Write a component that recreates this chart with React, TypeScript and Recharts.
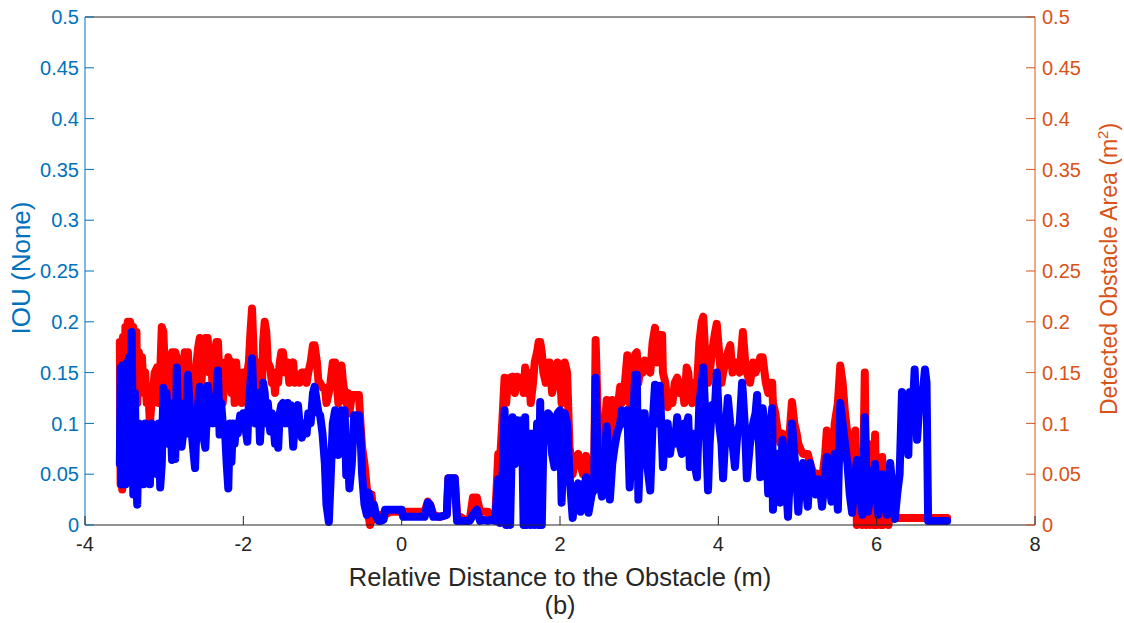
import React from "react";
import { LineChart, Line, XAxis, YAxis, ReferenceLine } from "recharts";

// Relative distance to the obstacle (m)
const DIST = [
  -3.56, -3.55, -3.54, -3.53, -3.52, -3.50, -3.49, -3.47, -3.46, -3.44,
  -3.43, -3.41, -3.39, -3.37, -3.35, -3.34, -3.32, -3.30, -3.28, -3.26,
  -3.24, -3.22, -3.20, -3.18, -3.16, -3.14, -3.12, -3.09, -3.07, -3.05,
  -3.03, -3.01, -2.99, -2.97, -2.95, -2.92, -2.90, -2.88, -2.86, -2.84,
  -2.82, -2.80, -2.78, -2.76, -2.74, -2.72, -2.70, -2.68, -2.66, -2.64,
  -2.61, -2.59, -2.57, -2.55, -2.53, -2.51, -2.48, -2.46, -2.45, -2.43,
  -2.41, -2.38, -2.36, -2.34, -2.32, -2.30, -2.28, -2.26, -2.23, -2.21,
  -2.19, -2.17, -2.15, -2.13, -2.11, -2.09, -2.07, -2.04, -2.02, -2.00,
  -1.98, -1.95, -1.93, -1.91, -1.89, -1.87, -1.85, -1.83, -1.81, -1.79,
  // B
  -1.77, -1.75, -1.73, -1.71, -1.69, -1.66, -1.64, -1.62, -1.60, -1.58,
  -1.56, -1.54, -1.52, -1.50, -1.47, -1.44, -1.42, -1.40, -1.37, -1.35,
  -1.31, -1.29, -1.26, -1.22, -1.20, -1.18, -1.15, -1.12, -1.10, -1.07,
  -1.05, -1.03, -1.00, -0.97, -0.95, -0.92, -0.90, -0.87, -0.84, -0.82,
  -0.80, -0.78, -0.76, -0.74, -0.72, -0.70, -0.68, -0.66, -0.63, -0.60,
  -0.57, -0.54, -0.52, -0.50, -0.47, -0.44, -0.42, -0.40, -0.38, -0.35,
  -0.32, -0.29, -0.26, -0.23,
  // C
  -0.21, -0.15, -0.08, 0.0, 0.02, 0.10, 0.20, 0.29, 0.33, 0.36,
  0.40, 0.48, 0.57, 0.59, 0.67, 0.70, 0.80, 0.86, 0.90, 0.95,
  0.99, 1.03, 1.09, 1.12, 1.18,
  // D
  1.22, 1.24, 1.27, 1.30, 1.32, 1.34, 1.37, 1.40, 1.43, 1.46,
  1.49, 1.52, 1.54, 1.56, 1.58, 1.61, 1.63, 1.66, 1.68, 1.71,
  1.73, 1.75, 1.77, 1.79, 1.82, 1.85, 1.87, 1.90, 1.93, 1.97,
  2.00, 2.02, 2.06, 2.09, 2.12, 2.16, 2.19, 2.23, 2.26, 2.29,
  2.33, 2.36, 2.40, 2.43, 2.45, 2.48, 2.53, 2.57, 2.59, 2.63,
  2.66, 2.69, 2.72, 2.76, 2.78, 2.81, 2.85, 2.88, 2.92, 2.95,
  2.97,
  // E
  2.99, 3.02, 3.05, 3.07, 3.10, 3.14, 3.17, 3.20, 3.23, 3.26,
  3.29, 3.30, 3.33, 3.36, 3.39, 3.42, 3.45, 3.48, 3.51, 3.54,
  3.57, 3.60, 3.62, 3.64, 3.67, 3.70, 3.73, 3.76, 3.79, 3.81,
  3.84, 3.87, 3.89, 3.92, 3.96, 3.98, 4.01, 4.04, 4.06, 4.09,
  4.12, 4.15, 4.18, 4.21, 4.24, 4.27, 4.30, 4.31, 4.34, 4.36,
  4.40, 4.44, 4.47, 4.49, 4.53, 4.56, 4.60, 4.63, 4.65, 4.68,
  4.69, 4.72, 4.75, 4.78, 4.81, 4.84, 4.88, 4.91, 4.93, 4.96,
  4.99, 5.01, 5.04, 5.07, 5.10, 5.13, 5.16, 5.20, 5.23, 5.26,
  5.28, 5.31, 5.35, 5.37, 5.40, 5.43, 5.47, 5.51, 5.54, 5.57,
  5.60, 5.63, 5.66, 5.69, 5.73, 5.75, 5.79, 5.82, 5.85, 5.87,
  5.89, 5.92, 5.94, 5.96, 5.98, 6.00, 6.02, 6.05, 6.07, 6.08,
  6.13, 6.15, 6.17, 6.21, 6.23, 6.26, 6.29, 6.32, 6.36, 6.40,
  6.42, 6.46, 6.48, 6.51, 6.55, 6.57, 6.61, 6.63, 6.65, 6.75,
  6.89,
];

// Detected obstacle area (m^2) - red, right axis
const AREA = [
  0.18, 0.04, 0.17, 0.035, 0.185, 0.09, 0.195, 0.12, 0.2, 0.17,
  0.2, 0.19, 0.195, 0.16, 0.19, 0.12, 0.17, 0.14, 0.165, 0.13,
  0.15, 0.12, 0.13, 0.1, 0.12, 0.13, 0.15, 0.155, 0.12, 0.15,
  0.195, 0.19, 0.15, 0.13, 0.11, 0.16, 0.17, 0.15, 0.17, 0.165,
  0.12, 0.15, 0.11, 0.15, 0.17, 0.15, 0.17, 0.13, 0.15, 0.12,
  0.14, 0.16, 0.175, 0.184, 0.14, 0.16, 0.184, 0.17, 0.184, 0.15,
  0.16, 0.13, 0.17, 0.18, 0.18, 0.14, 0.16, 0.12, 0.16, 0.14,
  0.165, 0.16, 0.13, 0.16, 0.12, 0.16, 0.13, 0.15, 0.12, 0.15,
  0.13, 0.15, 0.16, 0.19, 0.213, 0.17, 0.15, 0.13, 0.15, 0.16,
  // B
  0.12, 0.18, 0.2, 0.19, 0.16, 0.155, 0.14, 0.15, 0.13, 0.15,
  0.14, 0.16, 0.17, 0.17, 0.15, 0.16, 0.14, 0.15, 0.16, 0.14,
  0.148, 0.14, 0.15, 0.15, 0.14, 0.15, 0.16, 0.177, 0.177, 0.16,
  0.14, 0.14, 0.135, 0.135, 0.12, 0.13, 0.14, 0.16, 0.16, 0.14,
  0.12, 0.15, 0.157, 0.14, 0.13, 0.12, 0.13, 0.11, 0.128, 0.128,
  0.128, 0.128, 0.1, 0.077, 0.06, 0.036, 0.01, 0.0, 0.03, 0.005,
  0.01, 0.005, 0.01, 0.006,
  // C
  0.01, 0.013, 0.013, 0.013, 0.013, 0.013, 0.013, 0.013, 0.023, 0.02,
  0.01, 0.008, 0.01, 0.046, 0.046, 0.01, 0.005, 0.005, 0.027, 0.027,
  0.013, 0.013, 0.013, 0.005, 0.005,
  // D
  0.07, 0.06, 0.1, 0.145, 0.12, 0.14, 0.145, 0.146, 0.13, 0.146,
  0.14, 0.145, 0.13, 0.155, 0.13, 0.15, 0.12, 0.14, 0.16, 0.17,
  0.18, 0.18, 0.17, 0.15, 0.14, 0.16, 0.16, 0.13, 0.14, 0.16,
  0.15, 0.12, 0.16, 0.15, 0.077, 0.05, 0.065, 0.07, 0.06, 0.05,
  0.068, 0.05, 0.04, 0.04, 0.182, 0.1, 0.04, 0.1, 0.123, 0.08,
  0.123, 0.1, 0.11, 0.136, 0.12, 0.13, 0.167, 0.12, 0.15, 0.168,
  0.17,
  // E
  0.14, 0.16, 0.15, 0.162, 0.16, 0.15, 0.18, 0.194, 0.16, 0.187,
  0.187, 0.15, 0.14, 0.116, 0.13, 0.12, 0.14, 0.145, 0.13, 0.14,
  0.12, 0.155, 0.15, 0.13, 0.12, 0.14, 0.135, 0.18, 0.2, 0.205,
  0.16, 0.14, 0.15, 0.17, 0.19, 0.198, 0.17, 0.14, 0.15, 0.16,
  0.17, 0.177, 0.15, 0.16, 0.16, 0.15, 0.18, 0.19, 0.16, 0.15,
  0.14, 0.16, 0.15, 0.155, 0.165, 0.165, 0.14, 0.13, 0.14, 0.14,
  0.12, 0.11, 0.092, 0.081, 0.09, 0.085, 0.07, 0.1, 0.121, 0.1,
  0.09, 0.08, 0.074, 0.07, 0.07, 0.07, 0.06, 0.051, 0.051, 0.05,
  0.05, 0.045, 0.07, 0.093, 0.08, 0.05, 0.1, 0.12, 0.157, 0.14,
  0.11, 0.09, 0.07, 0.06, 0.093, 0.0, 0.04, 0.0, 0.15, 0.0,
  0.08, 0.0, 0.06, 0.0, 0.089, 0.0, 0.06, 0.0, 0.067, 0.0,
  0.03, 0.0, 0.02, 0.007, 0.007, 0.007, 0.007, 0.007, 0.007, 0.007,
  0.007, 0.007, 0.007, 0.007, 0.007, 0.007, 0.007, 0.007, 0.007, 0.007,
  0.007,
];

// IOU (None) - blue, left axis
const IOU = [
  0.06, 0.155, 0.04, 0.157, 0.05, 0.14, 0.04, 0.16, 0.05, 0.165,
  0.06, 0.19, 0.03, 0.13, 0.04, 0.02, 0.1, 0.05, 0.09, 0.04,
  0.1, 0.06, 0.08, 0.04, 0.1, 0.06, 0.09, 0.05, 0.1, 0.037,
  0.06, 0.135, 0.11, 0.13, 0.08, 0.1, 0.064, 0.12, 0.065, 0.155,
  0.1, 0.12, 0.077, 0.09, 0.11, 0.09, 0.148, 0.12, 0.1, 0.08,
  0.056, 0.1, 0.12, 0.136, 0.1, 0.09, 0.076, 0.11, 0.137, 0.1,
  0.12, 0.1, 0.12, 0.13, 0.152, 0.089, 0.12, 0.1, 0.09, 0.06,
  0.036, 0.1, 0.062, 0.1, 0.08, 0.1, 0.09, 0.108, 0.1, 0.11,
  0.1, 0.082, 0.12, 0.14, 0.164, 0.12, 0.1, 0.11, 0.13, 0.082,
  // B
  0.11, 0.14, 0.13, 0.1, 0.12, 0.092, 0.11, 0.1, 0.08, 0.1,
  0.076, 0.11, 0.118, 0.12, 0.1, 0.12, 0.1, 0.118, 0.077, 0.1,
  0.118, 0.1, 0.086, 0.1, 0.09, 0.11, 0.1, 0.13, 0.136, 0.12,
  0.11, 0.108, 0.09, 0.06, 0.02, 0.003, 0.04, 0.1, 0.113, 0.09,
  0.069, 0.1, 0.113, 0.1, 0.113, 0.049, 0.07, 0.036, 0.06, 0.108,
  0.108, 0.108, 0.09, 0.05, 0.02, 0.01, 0.032, 0.025, 0.012, 0.02,
  0.008, 0.004, 0.004, 0.005,
  // C
  0.015, 0.015, 0.015, 0.015, 0.008, 0.008, 0.008, 0.008, 0.022, 0.02,
  0.008, 0.008, 0.01, 0.046, 0.046, 0.004, 0.004, 0.004, 0.01, 0.015,
  0.004, 0.005, 0.004, 0.005, 0.004,
  // D
  0.045, 0.002, 0.04, 0.113, 0.0, 0.057, 0.0, 0.106, 0.06, 0.103,
  0.07, 0.103, 0.0, 0.106, 0.0, 0.09, 0.0, 0.09, 0.0, 0.1,
  0.0, 0.121, 0.0, 0.08, 0.09, 0.11, 0.108, 0.07, 0.057, 0.11,
  0.113, 0.022, 0.11, 0.1, 0.05, 0.007, 0.03, 0.041, 0.013, 0.03,
  0.047, 0.012, 0.03, 0.035, 0.145, 0.05, 0.028, 0.07, 0.097, 0.025,
  0.06, 0.077, 0.09, 0.1, 0.113, 0.1, 0.113, 0.037, 0.1, 0.148,
  0.148,
  // E
  0.025, 0.09, 0.11, 0.11, 0.06, 0.034, 0.1, 0.138, 0.1, 0.137,
  0.08, 0.057, 0.09, 0.1, 0.07, 0.09, 0.08, 0.106, 0.08, 0.07,
  0.1, 0.1, 0.106, 0.057, 0.09, 0.06, 0.047, 0.12, 0.14, 0.155,
  0.1, 0.034, 0.08, 0.118, 0.12, 0.15, 0.1, 0.08, 0.046, 0.09,
  0.125, 0.1, 0.08, 0.057, 0.09, 0.1, 0.14, 0.13, 0.09, 0.046,
  0.08, 0.1, 0.11, 0.128, 0.047, 0.115, 0.09, 0.031, 0.08, 0.115,
  0.015, 0.06, 0.07, 0.022, 0.084, 0.06, 0.008, 0.06, 0.1, 0.07,
  0.04, 0.013, 0.05, 0.061, 0.04, 0.018, 0.061, 0.041, 0.03, 0.045,
  0.04, 0.018, 0.05, 0.067, 0.04, 0.023, 0.07, 0.015, 0.12, 0.1,
  0.08, 0.061, 0.03, 0.012, 0.05, 0.064, 0.03, 0.01, 0.106, 0.05,
  0.013, 0.03, 0.054, 0.04, 0.06, 0.03, 0.01, 0.03, 0.05, 0.04,
  0.01, 0.03, 0.061, 0.03, 0.006, 0.031, 0.05, 0.131, 0.125, 0.069,
  0.131, 0.12, 0.153, 0.084, 0.131, 0.12, 0.153, 0.14, 0.004, 0.004,
  0.004,
];

const X_TICKS = [-4, -2, 0, 2, 4, 6, 8];
const Y_TICKS = [0, 0.05, 0.1, 0.15, 0.2, 0.25, 0.3, 0.35, 0.4, 0.45, 0.5];

const X_TITLE = "Relative Distance to the Obstacle (m)";
const SUBTITLE = "(b)";
const LEFT_TITLE = "IOU (None)";
const RIGHT_TITLE = "Detected Obstacle Area (m";

const LEFT_COLOR = "#0072BD";
const RIGHT_COLOR = "#D95319";
const AXIS_COLOR = "#262626";
const FONT = "'Liberation Sans', Arial, Helvetica, sans-serif";

const data = DIST.map((d, i) => ({ d, iou: IOU[i], area: AREA[i] }));

const fmt = (v: number) => String(Number(v.toFixed(2)));

const LeftTick = (props: any) => {
  const { x, y, payload } = props;
  return (
    <g>
      <line x1={x} x2={x + 9} y1={y} y2={y} stroke={LEFT_COLOR} strokeWidth={1} />
      <text x={x - 6} y={y} dy="0.36em" textAnchor="end" fill={LEFT_COLOR} fontSize={20} fontFamily={FONT}>
        {fmt(payload.value)}
      </text>
    </g>
  );
};

const RightTick = (props: any) => {
  const { x, y, payload } = props;
  return (
    <g>
      <line x1={x} x2={x - 9} y1={y} y2={y} stroke={RIGHT_COLOR} strokeWidth={1} />
      <text x={x + 7} y={y} dy="0.36em" textAnchor="start" fill={RIGHT_COLOR} fontSize={20} fontFamily={FONT}>
        {fmt(payload.value)}
      </text>
    </g>
  );
};

const BottomTick = (props: any) => {
  const { x, y, payload } = props;
  return (
    <g>
      <line x1={x} x2={x} y1={y} y2={y - 9} stroke={AXIS_COLOR} strokeWidth={1} />
      <text x={x} y={y + 12} dy="0.72em" textAnchor="middle" fill={AXIS_COLOR} fontSize={20} fontFamily={FONT}>
        {fmt(payload.value)}
      </text>
    </g>
  );
};

export default function App() {
  return (
    <div style={{ position: "absolute", left: 0, top: 0, width: 1124, height: 623, background: "#fff" }}>
      <LineChart
        width={1124}
        height={623}
        data={data}
        margin={{ top: 17, right: 29, left: 25, bottom: 68 }}
      >
        <XAxis
          dataKey="d"
          type="number"
          domain={[-4, 8]}
          ticks={X_TICKS}
          interval={0}
          height={30}
          tickSize={0}
          tickMargin={0}
          tickLine={false}
          tick={<BottomTick />}
          axisLine={{ stroke: AXIS_COLOR, strokeWidth: 1 }}
        />
        <YAxis
          yAxisId="left"
          orientation="left"
          domain={[0, 0.5]}
          ticks={Y_TICKS}
          interval={0}
          width={60}
          tickSize={0}
          tickMargin={0}
          tickLine={false}
          tick={<LeftTick />}
          axisLine={{ stroke: LEFT_COLOR, strokeWidth: 1 }}
        />
        <YAxis
          yAxisId="right"
          orientation="right"
          domain={[0, 0.5]}
          ticks={Y_TICKS}
          interval={0}
          width={60}
          tickSize={0}
          tickMargin={0}
          tickLine={false}
          tick={<RightTick />}
          axisLine={{ stroke: RIGHT_COLOR, strokeWidth: 1 }}
        />
        <ReferenceLine yAxisId="left" y={0.5} stroke={AXIS_COLOR} strokeWidth={1} />
        <Line
          yAxisId="right"
          dataKey="area"
          type="linear"
          stroke="#FF0000"
          strokeWidth={8}
          strokeLinejoin="round"
          strokeLinecap="round"
          dot={false}
          activeDot={false}
          isAnimationActive={false}
        />
        <Line
          yAxisId="left"
          dataKey="iou"
          type="linear"
          stroke="#0000FF"
          strokeWidth={8}
          strokeLinejoin="round"
          strokeLinecap="round"
          dot={false}
          activeDot={false}
          isAnimationActive={false}
        />
      </LineChart>
      <svg
        width={1124}
        height={623}
        style={{ position: "absolute", left: 0, top: 0, pointerEvents: "none" }}
      >
        <text x={560} y={586} textAnchor="middle" fill={AXIS_COLOR} fontSize={25.5} fontFamily={FONT}>
          {X_TITLE}
        </text>
        <text x={560} y={614} textAnchor="middle" fill={AXIS_COLOR} fontSize={25.5} fontFamily={FONT}>
          {SUBTITLE}
        </text>
        <text
          x={30}
          y={268}
          textAnchor="middle"
          fill={LEFT_COLOR}
          fontSize={26}
          fontFamily={FONT}
          transform="rotate(-90 30 268)"
        >
          {LEFT_TITLE}
        </text>
        <text
          x={1117}
          y={269}
          textAnchor="middle"
          fill={RIGHT_COLOR}
          fontSize={23}
          fontFamily={FONT}
          transform="rotate(-90 1117 269)"
        >
          {RIGHT_TITLE}
          <tspan dy={-9} fontSize={15}>2</tspan>
          <tspan dy={9}>)</tspan>
        </text>
      </svg>
    </div>
  );
}
